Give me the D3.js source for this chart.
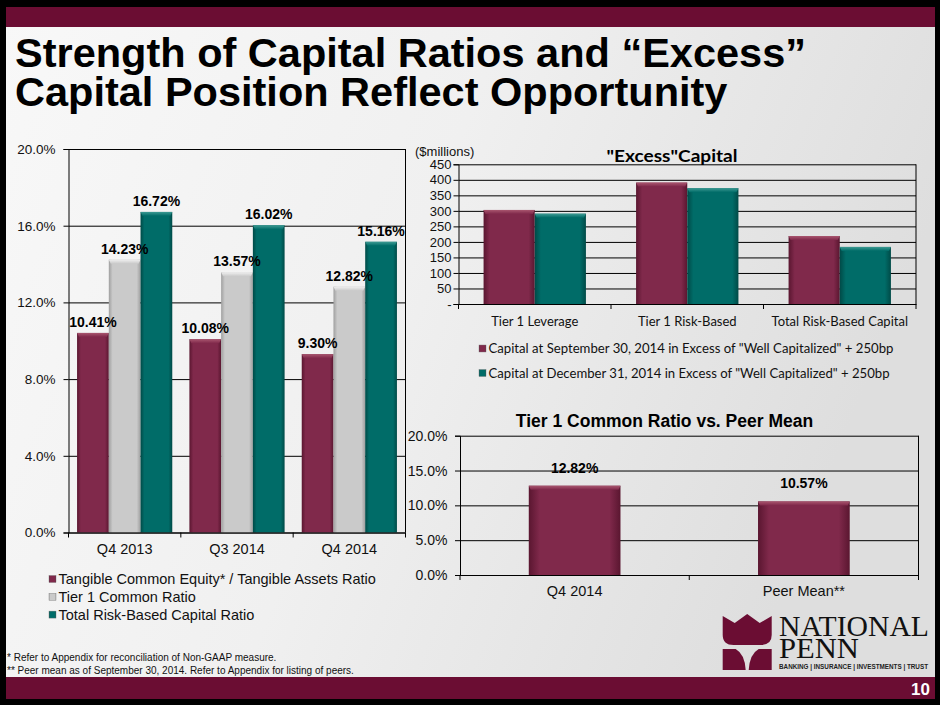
<!DOCTYPE html>
<html>
<head>
<meta charset="utf-8">
<script src="https://cdn.jsdelivr.net/npm/d3@7"></script>
<style>
  html, body { margin: 0; padding: 0; background: #000; }
  svg { display: block; }
</style>
</head>
<body>
<svg id="slide" width="940" height="705"></svg>
<script>
// ---- data ----
const ratioQuarters = ["Q4 2013", "Q3 2014", "Q4 2014"];
const ratioSeries = ["Tangible Common Equity* / Tangible Assets Ratio", "Tier 1 Common Ratio", "Total Risk-Based Capital Ratio"];
const tceRatio = [10.41, 10.08, 9.30];
const tier1CommonRatio = [14.23, 13.57, 12.82];
const totalRiskBasedRatio = [16.72, 16.02, 15.16];
const ratioTicks = [0, 4, 8, 12, 16, 20];

const excessCategories = ["Tier 1 Leverage", "Tier 1 Risk-Based", "Total Risk-Based Capital"];
const excessSeries = ["Capital at September 30, 2014 in Excess of \"Well Capitalized\" + 250bp",
                      "Capital at December 31, 2014 in Excess of \"Well Capitalized\" + 250bp"];
const excessSep2014 = [303, 391, 219];
const excessDec2014 = [291, 373, 184];
const excessTicks = [0, 50, 100, 150, 200, 250, 300, 350, 400, 450];

const peerCategories = ["Q4 2014", "Peer Mean**"];
const peerValues = [12.82, 10.57];
const peerTicks = [0, 5, 10, 15, 20];

// ---- styles ----
const ARIAL = "'Liberation Sans', Arial, sans-serif";
const CALIBRI = "Lato, 'Open Sans', sans-serif";
const MAROON = "#6b0d33";
const barColors = {
    maroon: ["#5a1630", "#80294b", "#a9566f"],
    gray:   ["#9f9f9f", "#cacaca", "#efefef"],
    teal:   ["#004a47", "#006c68", "#3d9a93"]
};

const svg = d3.select("#slide");
const defs = svg.append("defs");

// background gradient
const bg = defs.append("linearGradient").attr("id", "bg").attr("x1", 0).attr("x2", 1).attr("y1", 0).attr("y2", 0.3);
bg.append("stop").attr("offset", 0).attr("stop-color", "#f8f8f8");
bg.append("stop").attr("offset", 0.5).attr("stop-color", "#f0f0f0");
bg.append("stop").attr("offset", 1).attr("stop-color", "#dedede");

// bar gradients (darker edges, like the bevel in the slide)
Object.entries(barColors).forEach(([name, c]) => {
    const g = defs.append("linearGradient").attr("id", "bar-" + name).attr("x1", 0).attr("x2", 1);
    g.append("stop").attr("offset", 0).attr("stop-color", c[0]);
    g.append("stop").attr("offset", 0.12).attr("stop-color", c[1]);
    g.append("stop").attr("offset", 0.88).attr("stop-color", c[1]);
    g.append("stop").attr("offset", 1).attr("stop-color", c[0]);
    const t = defs.append("linearGradient").attr("id", "cap-" + name).attr("x1", 0).attr("x2", 0).attr("y1", 0).attr("y2", 1);
    t.append("stop").attr("offset", 0).attr("stop-color", c[2]);
    t.append("stop").attr("offset", 1).attr("stop-color", c[1]);
});

// slide frame
svg.append("rect").attr("x", 6).attr("y", 7).attr("width", 929).attr("height", 692).attr("fill", "url(#bg)");
svg.append("rect").attr("x", 6).attr("y", 7).attr("width", 929).attr("height", 20).attr("fill", MAROON);
svg.append("rect").attr("x", 6).attr("y", 677).attr("width", 929).attr("height", 22).attr("fill", MAROON);

// title
const title = svg.append("text")
    .attr("font-family", ARIAL)
    .attr("font-weight", "bold")
    .attr("font-size", "41.5px")
    .attr("fill", "#000");
title.append("tspan").attr("x", 15).attr("y", 67).text("Strength of Capital Ratios and \u201cExcess\u201d");
title.append("tspan").attr("x", 15).attr("y", 106).text("Capital Position Reflect Opportunity");

// draws one beveled bar
function drawBar(g, x, y, w, h, color) {
    g.append("rect").attr("x", x).attr("y", y).attr("width", w).attr("height", h)
        .attr("fill", "url(#bar-" + color + ")");
    const capH = Math.min(4, h);
    g.append("path")
        .attr("d", `M${x},${y}L${x + w},${y}L${x + w - 2},${y + capH}L${x + 2},${y + capH}Z`)
        .attr("fill", "url(#cap-" + color + ")");
}

// frame, grid and axes shared by the three charts
function drawFrame(g, x0, x1, y0, y1, yScale, ticks, fmt, fontSize, labelGap) {
    const yAxis = d3.axisLeft(yScale).tickValues(ticks).tickSize(5).tickPadding(labelGap).tickFormat(fmt);
    g.append("g")
        .attr("transform", `translate(${x0},0)`)
        .call(yAxis)
        .call(a => a.selectAll(".tick line").clone()
            .attr("x1", 0).attr("x2", x1 - x0)
            .attr("stroke", "#000"))
        .call(a => a.selectAll("text").attr("font-family", ARIAL).attr("font-size", fontSize).attr("fill", "#111"))
        .call(a => a.selectAll("line,path").attr("stroke", "#000"));
    // right border
    g.append("line").attr("x1", x1).attr("x2", x1).attr("y1", y0).attr("y2", y1).attr("stroke", "#000");
}

function drawCategoryAxis(g, xBand, y1, fontFamily, fontSize, pad) {
    const xAxis = d3.axisBottom(xBand).tickSize(0).tickPadding(pad);
    g.append("g")
        .attr("transform", `translate(0,${y1})`)
        .call(xAxis)
        .call(a => a.select(".domain").attr("stroke", "#000"))
        .call(a => a.selectAll("text").attr("font-family", fontFamily).attr("font-size", fontSize).attr("fill", "#111"));
    // tick marks at category boundaries
    const edges = xBand.domain().map(d => xBand(d)).concat([xBand.range()[1]]);
    g.append("g").selectAll("line").data(edges).join("line")
        .attr("x1", d => d).attr("x2", d => d)
        .attr("y1", y1).attr("y2", y1 + 5)
        .attr("stroke", "#000");
}

// ---------- left chart: capital ratios ----------
function drawRatioChart() {
    const x0 = 68.5, x1 = 405.5, y0 = 149, y1 = 532.5;
    const g = svg.append("g");
    const yScale = d3.scaleLinear([0, 20], [y1, y0]);
    const xBand = d3.scaleBand(ratioQuarters, [x0, x1]);
    const xInner = d3.scaleBand(ratioSeries, [0, xBand.bandwidth()]).paddingOuter(0.27).paddingInner(0);

    drawFrame(g, x0, x1, y0, y1, yScale, ratioTicks, d => d.toFixed(1) + "%", "13.5px", 8);

    const values = [tceRatio, tier1CommonRatio, totalRiskBasedRatio];
    const colors = ["maroon", "gray", "teal"];
    const bars = g.append("g");
    ratioSeries.forEach((s, si) => {
        ratioQuarters.forEach((q, qi) => {
            const v = values[si][qi];
            drawBar(bars, xBand(q) + xInner(s), yScale(v), xInner.bandwidth(), y1 - yScale(v), colors[si]);
        });
    });
    // value labels
    ratioSeries.forEach((s, si) => {
        g.append("g").selectAll("text").data(ratioQuarters).join("text")
            .attr("x", (q) => xBand(q) + xInner(s) + xInner.bandwidth() / 2)
            .attr("y", (q, qi) => yScale(values[si][qi]) - 6)
            .attr("text-anchor", "middle")
            .attr("font-family", ARIAL).attr("font-weight", "bold").attr("font-size", "14px")
            .text((q, qi) => values[si][qi].toFixed(2) + "%");
    });

    drawCategoryAxis(g, xBand, y1, ARIAL, "14.5px", 11);

    // legend
    const legend = g.append("g").selectAll("g").data(ratioSeries).join("g")
        .attr("transform", (d, i) => `translate(49,${579 + i * 17.8})`);
    legend.append("rect").attr("x", 0).attr("y", -3.5).attr("width", 7).attr("height", 7)
        .attr("fill", (d, i) => "url(#bar-" + colors[i] + ")").attr("stroke", "#777").attr("stroke-width", 0.4);
    legend.append("text").attr("x", 9.5).attr("y", 5)
        .attr("font-family", ARIAL).attr("font-size", "14.5px").attr("fill", "#111")
        .text(d => d);
}

// ---------- right top chart: "Excess" capital ----------
function drawExcessChart() {
    const x0 = 458.5, x1 = 916, y0 = 164.3, y1 = 304;
    const g = svg.append("g");
    const yScale = d3.scaleLinear([0, 450], [y1, y0]);
    const xBand = d3.scaleBand(excessCategories, [x0, x1]);
    const xInner = d3.scaleBand(excessSeries, [0, xBand.bandwidth()]).paddingOuter(0.49).paddingInner(0);

    drawFrame(g, x0, x1, y0, y1, yScale, excessTicks, d => d === 0 ? "-" : d, "13px", 2);

    const values = [excessSep2014, excessDec2014];
    const colors = ["maroon", "teal"];
    excessSeries.forEach((s, si) => {
        excessCategories.forEach((c, ci) => {
            const v = values[si][ci];
            drawBar(g, xBand(c) + xInner(s), yScale(v), xInner.bandwidth(), y1 - yScale(v), colors[si]);
        });
    });

    drawCategoryAxis(g, xBand, y1, CALIBRI, "13px", 13);

    g.append("text").attr("x", 415).attr("y", 155.5)
        .attr("font-family", ARIAL).attr("font-size", "13px").attr("fill", "#111")
        .text("($millions)");
    g.append("text").attr("x", 672).attr("y", 162)
        .attr("text-anchor", "middle")
        .attr("font-family", CALIBRI).attr("font-weight", "bold").attr("font-size", "17px")
        .attr("textLength", 131).attr("lengthAdjust", "spacingAndGlyphs")
        .text("\"Excess\"Capital");

    const legend = g.append("g").selectAll("g").data(excessSeries).join("g")
        .attr("transform", (d, i) => `translate(479,${348.5 + i * 24.5})`);
    legend.append("rect").attr("x", 0).attr("y", -3.5).attr("width", 7).attr("height", 7)
        .attr("fill", (d, i) => "url(#bar-" + colors[i] + ")").attr("stroke", "#777").attr("stroke-width", 0.4);
    legend.append("text").attr("x", 9.5).attr("y", 4.5)
        .attr("font-family", CALIBRI).attr("font-size", "13px").attr("fill", "#111")
        .attr("textLength", (d, i) => i === 0 ? 405 : 401).attr("lengthAdjust", "spacingAndGlyphs")
        .text(d => d);
}

// ---------- right bottom chart: Tier 1 common vs peers ----------
function drawPeerChart() {
    const x0 = 460, x1 = 918.5, y0 = 435.7, y1 = 575;
    const g = svg.append("g");
    const yScale = d3.scaleLinear([0, 20], [y1, y0]);
    const xBand = d3.scaleBand(peerCategories, [x0, x1]).paddingInner(0.6).paddingOuter(0.3);

    drawFrame(g, x0, x1, y0, y1, yScale, peerTicks, d => d.toFixed(1) + "%", "14px", 7.5);

    peerCategories.forEach((c, ci) => {
        drawBar(g, xBand(c), yScale(peerValues[ci]), xBand.bandwidth(), y1 - yScale(peerValues[ci]), "maroon");
    });
    g.append("g").selectAll("text").data(peerCategories).join("text")
        .attr("x", c => xBand(c) + xBand.bandwidth() / 2)
        .attr("y", (c, ci) => yScale(peerValues[ci]) - 13)
        .attr("text-anchor", "middle")
        .attr("font-family", ARIAL).attr("font-weight", "bold").attr("font-size", "14px")
        .text((c, ci) => peerValues[ci].toFixed(2) + "%");

    // category axis uses the full-width band so the boundary ticks sit at the plot edges
    const xFull = d3.scaleBand(peerCategories, [x0, x1]);
    drawCategoryAxis(g, xFull, y1, ARIAL, "14.5px", 11);

    g.append("text").attr("x", 664.5).attr("y", 427)
        .attr("text-anchor", "middle")
        .attr("font-family", ARIAL).attr("font-weight", "bold").attr("font-size", "17.5px")
        .text("Tier 1 Common Ratio vs. Peer Mean");
}

drawRatioChart();
drawExcessChart();
drawPeerChart();

// footnotes
const notes = svg.append("g").attr("font-family", ARIAL).attr("font-size", "10px").attr("fill", "#111");
notes.append("text").attr("x", 7).attr("y", 661).text("* Refer to Appendix for reconciliation of Non-GAAP measure.");
notes.append("text").attr("x", 7).attr("y", 674).text("** Peer mean as of September 30, 2014. Refer to Appendix for listing of peers.");

// logo
const logo = svg.append("g").attr("transform", "translate(722.7,614)");
logo.append("path")
    .attr("d", "M0,2 L12,9 L24.5,0 L37,9 L49,2 L49,21 Q49,31 38,31 L11,31 Q0,31 0,21 Z")
    .attr("fill", MAROON);
logo.append("path")
    .attr("d", "M0,35 L13,35 Q22,40 23,56 L0,56 Z")
    .attr("fill", MAROON);
logo.append("path")
    .attr("d", "M49,35 L36,35 Q27,40 26,56 L49,56 Z")
    .attr("fill", MAROON);
svg.append("text").attr("x", 779).attr("y", 636)
    .attr("font-family", "'Liberation Serif', 'Times New Roman', serif").attr("font-size", "29px")
    .attr("textLength", 150).attr("lengthAdjust", "spacingAndGlyphs").attr("fill", "#111")
    .text("NATIONAL");
svg.append("text").attr("x", 779).attr("y", 658)
    .attr("font-family", "'Liberation Serif', 'Times New Roman', serif").attr("font-size", "29px")
    .attr("textLength", 80).attr("lengthAdjust", "spacingAndGlyphs").attr("fill", "#111")
    .text("PENN");
svg.append("text").attr("x", 779).attr("y", 669)
    .attr("font-family", ARIAL).attr("font-weight", "bold").attr("font-size", "6.5px")
    .attr("textLength", 149).attr("lengthAdjust", "spacingAndGlyphs").attr("fill", "#222")
    .text("BANKING | INSURANCE | INVESTMENTS | TRUST");

// page number
svg.append("text").attr("x", 930).attr("y", 695)
    .attr("text-anchor", "end")
    .attr("font-family", ARIAL).attr("font-weight", "bold").attr("font-size", "17px").attr("fill", "#fff")
    .text("10");
</script>
</body>
</html>
